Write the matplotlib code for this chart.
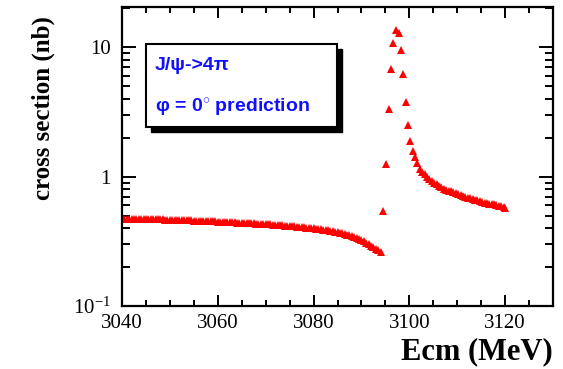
import matplotlib
matplotlib.use("Agg")
import matplotlib.pyplot as plt
from matplotlib.patches import Rectangle
from matplotlib.ticker import FixedLocator, FixedFormatter, MultipleLocator, LogLocator, NullFormatter

plt.rcParams['mathtext.fontset'] = 'custom'
plt.rcParams['mathtext.rm'] = 'Liberation Serif'
plt.rcParams['mathtext.it'] = 'Liberation Serif:italic'
plt.rcParams['mathtext.bf'] = 'Liberation Serif:bold'

# below-resonance branch
E_low = [3040.0, 3040.5, 3041.0, 3041.5, 3042.0, 3042.5, 3043.0, 3043.5, 3044.0, 3044.5,
         3045.0, 3045.5, 3046.0, 3046.5, 3047.0, 3047.5, 3048.0, 3048.5, 3049.0, 3049.5,
         3050.0, 3050.5, 3051.0, 3051.5, 3052.0, 3052.5, 3053.0, 3053.5, 3054.0, 3054.5,
         3055.0, 3055.5, 3056.0, 3056.5, 3057.0, 3057.5, 3058.0, 3058.5, 3059.0, 3059.5,
         3060.0, 3060.5, 3061.0, 3061.5, 3062.0, 3062.5, 3063.0, 3063.5, 3064.0, 3064.5,
         3065.0, 3065.5, 3066.0, 3066.5, 3067.0, 3067.5, 3068.0, 3068.5, 3069.0, 3069.5,
         3070.0, 3070.5, 3071.0, 3071.5, 3072.0, 3072.5, 3073.0, 3073.5, 3074.0, 3074.5,
         3075.0, 3075.5, 3076.0, 3076.5, 3077.0, 3077.5, 3078.0, 3078.5, 3079.0, 3079.5,
         3080.0, 3080.5, 3081.0, 3081.5, 3082.0, 3082.5, 3083.0, 3083.5, 3084.0, 3084.5,
         3085.0, 3085.5, 3086.0, 3086.5, 3087.0, 3087.5, 3088.0, 3088.5, 3089.0, 3089.5,
         3090.0, 3090.5, 3091.0, 3091.5, 3092.0, 3092.5, 3093.0, 3093.5, 3094.0]
sig_low = [0.4750, 0.4745, 0.4740, 0.4735, 0.4730, 0.4725, 0.4720, 0.4715, 0.4710, 0.4705,
           0.4700, 0.4695, 0.4690, 0.4685, 0.4680, 0.4675, 0.4670, 0.4665, 0.4660, 0.4655,
           0.4650, 0.4642, 0.4635, 0.4628, 0.4620, 0.4612, 0.4605, 0.4598, 0.4590, 0.4582,
           0.4575, 0.4568, 0.4560, 0.4552, 0.4545, 0.4538, 0.4530, 0.4522, 0.4515, 0.4508,
           0.4500, 0.4490, 0.4480, 0.4470, 0.4460, 0.4450, 0.4440, 0.4430, 0.4420, 0.4410,
           0.4400, 0.4390, 0.4380, 0.4370, 0.4360, 0.4350, 0.4340, 0.4330, 0.4320, 0.4310,
           0.4300, 0.4286, 0.4272, 0.4258, 0.4244, 0.4230, 0.4215, 0.4200, 0.4185, 0.4170,
           0.4155, 0.4140, 0.4125, 0.4108, 0.4092, 0.4075, 0.4058, 0.4040, 0.4022, 0.4005,
           0.3990, 0.3968, 0.3946, 0.3922, 0.3898, 0.3872, 0.3845, 0.3816, 0.3786, 0.3754,
           0.3720, 0.3684, 0.3646, 0.3605, 0.3562, 0.3516, 0.3468, 0.3416, 0.3360, 0.3300,
           0.3235, 0.3165, 0.3090, 0.3010, 0.2930, 0.2850, 0.2770, 0.2690, 0.2620]

# resonance peak and tail
E_high = [3094.5, 3095.2, 3095.7, 3096.1, 3096.6, 3097.2, 3097.8, 3098.2, 3098.7, 3099.3,
          3099.8, 3100.2, 3100.7, 3101.2, 3101.7, 3102.2, 3102.7, 3103.2, 3103.7, 3104.2,
          3104.7, 3105.2, 3105.7, 3106.2, 3106.7, 3107.2, 3107.7, 3108.2, 3108.7, 3109.2,
          3109.7, 3110.2, 3110.7, 3111.2, 3111.7, 3112.2, 3112.7, 3113.2, 3113.7, 3114.2,
          3114.7, 3115.2, 3115.7, 3116.2, 3116.7, 3117.2, 3117.7, 3118.2, 3118.7, 3119.2,
          3119.7, 3120.0]
sig_high = [0.54, 1.25, 3.33, 6.77, 10.8, 13.7, 13.0, 9.6, 6.17, 3.8,
            2.51, 1.89, 1.57, 1.42, 1.27, 1.15, 1.08, 1.04, 1.00, 0.96,
            0.93, 0.90, 0.87, 0.845, 0.825, 0.805, 0.79, 0.78, 0.77, 0.755,
            0.745, 0.735, 0.72, 0.71, 0.70, 0.69, 0.68, 0.67, 0.66, 0.655,
            0.645, 0.64, 0.63, 0.625, 0.62, 0.615, 0.61, 0.60, 0.595, 0.59,
            0.58, 0.575]

xticks = [3040, 3060, 3080, 3100, 3120]
xticklabels = ["3040", "3060", "3080", "3100", "3120"]
yticks = [0.1, 1, 10]
yticklabels = ["10$^{-1}$", "1", "10"]

W, H = 563, 369
fig = plt.figure(figsize=(W / 100, H / 100), dpi=100)
ax = fig.add_axes([122 / W, 1 - 306 / H, 431 / W, 299 / H])

for E, s in ((E_low, sig_low), (E_high, sig_high)):
    ax.plot(E, s, linestyle='none', marker='^', markersize=6,
            color='red', markeredgewidth=0)

ax.set_yscale('log')
ax.set_xlim(3040, 3130)
ax.set_ylim(0.1, 20.5)

ax.xaxis.set_major_locator(FixedLocator(xticks))
ax.xaxis.set_major_formatter(FixedFormatter(xticklabels))
ax.xaxis.set_minor_locator(MultipleLocator(5))
ax.yaxis.set_major_locator(FixedLocator(yticks))
ax.yaxis.set_major_formatter(FixedFormatter(yticklabels))
ax.yaxis.set_minor_locator(LogLocator(base=10, subs=[2, 3, 4, 5, 6, 7, 8, 9]))
ax.yaxis.set_minor_formatter(NullFormatter())

for sp in ax.spines.values():
    sp.set_linewidth(1.6)
ax.tick_params(which='both', direction='in', top=True, right=True, width=1.4)
ax.tick_params(which='major', length=8)
ax.tick_params(which='minor', length=4)
ax.tick_params(axis='x', which='major', pad=6)
ax.tick_params(axis='y', which='major', length=10, pad=8)
ax.tick_params(axis='y', which='minor', length=6)
for lab in ax.get_xticklabels() + ax.get_yticklabels():
    lab.set_fontfamily('Liberation Serif')
    lab.set_fontsize(15)

fig.text(43 / W, 1 - 108 / H, "cross section (nb)", rotation=90,
         ha='center', va='center', fontsize=18, fontweight='bold',
         family='Liberation Serif')
fig.text(553 / W, 1 - 352 / H, "Ecm (MeV)", ha='right', va='center',
         fontsize=22, fontweight='bold', family='Liberation Serif')

# annotation box with shadow
def fx(px):
    return (px - 122) / 431

def fy(py):
    return 1 - (py - 7) / 299

ax.add_patch(Rectangle((fx(151), fy(132)), fx(342) - fx(151), fy(49) - fy(132),
                       transform=ax.transAxes, facecolor='black', edgecolor='black',
                       zorder=5))
ax.add_patch(Rectangle((fx(146), fy(127)), fx(337) - fx(146), fy(44) - fy(127),
                       transform=ax.transAxes, facecolor='white', edgecolor='black',
                       linewidth=1.5, zorder=6))
ax.text(fx(155), fy(65), "J/ψ->4π", transform=ax.transAxes, ha='left', va='center',
        color='#1010ff', fontsize=14, fontweight='bold', family='Liberation Sans', zorder=7)
ax.text(fx(155), fy(107), "φ = 0$^{\\circ}$ prediction", transform=ax.transAxes,
        ha='left', va='center', color='#1010ff', fontsize=14, fontweight='bold',
        family='Liberation Sans', zorder=7)

fig.savefig("out.png", dpi=100)
